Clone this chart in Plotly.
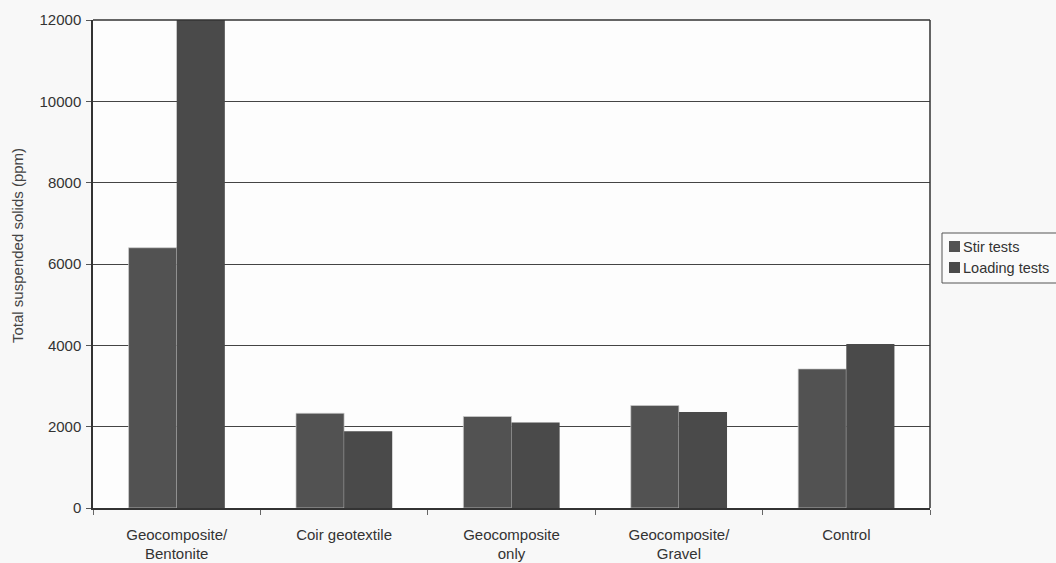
import plotly.graph_objects as go

categories = ["Geocomposite/<br>Bentonite", "Coir geotextile", "Geocomposite<br>only",
              "Geocomposite/<br>Gravel", "Control"]
stir_tests = [6400, 2330, 2250, 2520, 3420]
loading_tests = [12000, 1890, 2100, 2360, 4030]
y_ticks = [0, 2000, 4000, 6000, 8000, 10000, 12000]
series_names = ["Stir tests", "Loading tests"]
series_colors = ["#525252", "#4a4a4a"]

W, H = 1056, 563
L, R, T, B = 93, 126, 20, 55
PW, PH = W - L - R, H - T - B


def px_x(p):  # pixel x -> paper coord
    return (p - L) / PW


def px_y(p):  # pixel y -> paper coord
    return (H - B - p) / PH


fig = go.Figure()
fig.add_trace(go.Bar(x=categories, y=stir_tests, name=series_names[0], showlegend=False,
                     marker=dict(color=series_colors[0], line=dict(color="#cfcfcf", width=0.7))))
fig.add_trace(go.Bar(x=categories, y=loading_tests, name=series_names[1], showlegend=False,
                     marker=dict(color=series_colors[1], line=dict(width=0))))

fig.update_layout(
    width=W, height=H,
    margin=dict(l=L, r=R, t=T, b=B, autoexpand=False),
    paper_bgcolor="#f8f8f8", plot_bgcolor="#fdfdfd",
    barmode="group", bargap=0.425, bargroupgap=0,
    font=dict(family="Liberation Sans, Arial, sans-serif", size=15, color="#333333"),
    showlegend=False,
)
fig.update_xaxes(showline=True, linecolor="#333333", linewidth=1.5, mirror=False,
                 ticks="outside", tickson="boundaries", ticklen=5, tickcolor="#666666",
                 tickfont=dict(size=15, color="#333333"), ticklabelstandoff=12,
                 showgrid=False, automargin=False)
fig.update_yaxes(range=[0, 12000], tickvals=y_ticks, tickformat="d", showline=True,
                 linecolor="#333333", linewidth=1.5, ticks="outside", ticklen=5,
                 tickcolor="#555555", showgrid=True, gridcolor="#444444", gridwidth=1,
                 tickfont=dict(size=15, color="#333333"), ticklabelstandoff=2,
                 automargin=False)
# right and top frame
fig.add_shape(type="line", xref="paper", yref="paper", x0=1, x1=1, y0=0, y1=1,
              line=dict(color="#333333", width=1.5))
fig.add_shape(type="line", xref="paper", yref="paper", x0=0, x1=1, y0=1, y1=1,
              line=dict(color="#333333", width=1.5))

# y-axis title
fig.add_annotation(text="Total suspended solids (ppm)", xref="paper", yref="paper",
                   x=px_x(17), y=px_y(246), textangle=-90, showarrow=False,
                   font=dict(size=15, color="#444444"), xanchor="center", yanchor="middle")

# legend (box, swatches, labels)
fig.add_shape(type="rect", xref="paper", yref="paper", x0=px_x(942), x1=px_x(1100),
              y0=px_y(283), y1=px_y(233), line=dict(color="#555555", width=1),
              fillcolor="#fafafa", layer="below")
for i, (name, col) in enumerate(zip(series_names, series_colors)):
    top = 241 + 21 * i
    fig.add_shape(type="rect", xref="paper", yref="paper", x0=px_x(949), x1=px_x(960),
                  y0=px_y(top + 11), y1=px_y(top), line=dict(width=0), fillcolor=col)
    fig.add_annotation(text=name, xref="paper", yref="paper", x=px_x(961),
                       y=px_y(top + 5.5), showarrow=False, xanchor="left", yanchor="middle",
                       font=dict(size=14.5, color="#333333"))

fig.write_html("out.html", config={"displayModeBar": False},
               post_script="document.body.style.margin='0';")
